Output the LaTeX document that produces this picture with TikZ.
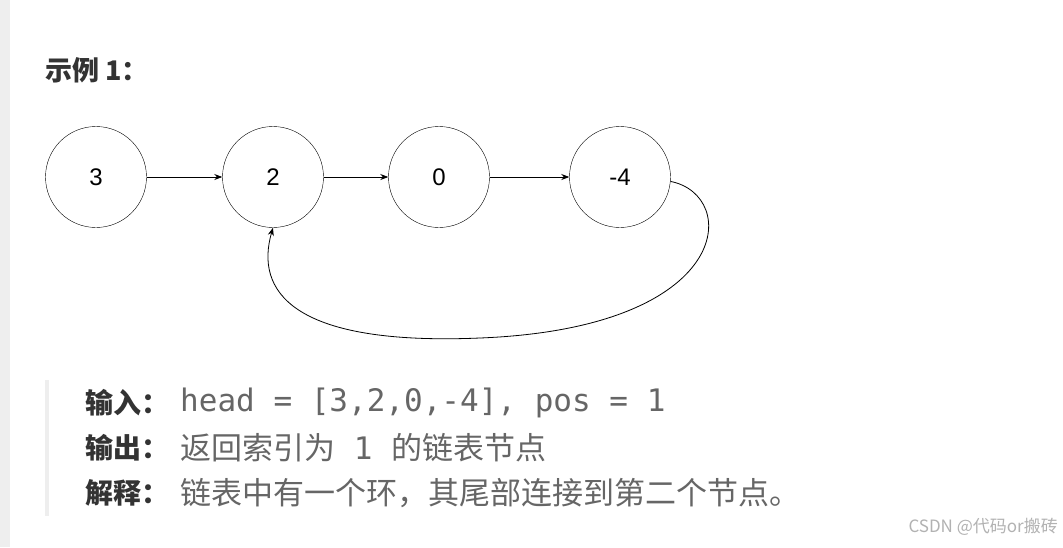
\documentclass[tikz,border=0pt]{standalone}
\usepackage{fontspec}
\setmainfont{Liberation Sans}
\newfontfamily\cjk{Noto Sans CJK SC}
\newfontfamily\mono{DejaVu Sans Mono}
\usetikzlibrary{arrows.meta, positioning}
\definecolor{txtgray}{HTML}{666666}
\definecolor{txtdark}{HTML}{333333}
\definecolor{bargray}{HTML}{EEEEEE}
\tikzset{
    listnode/.style={draw, circle, minimum size=101pt, inner sep=0pt, font=\fontsize{24}{24}\selectfont},
    nextarrow/.style={-{Stealth[length=8pt,width=6pt]}, line width=0.8pt},
    label/.style={anchor=west, inner sep=0pt, font=\cjk\bfseries\fontsize{28}{28}\selectfont, text=txtdark},
    body/.style={anchor=west, inner sep=0pt, font=\cjk\fontsize{31}{31}\selectfont, text=txtgray}
}
\begin{document}
\begin{tikzpicture}[x=1pt, y=-1pt]
    \useasboundingbox (0,0) rectangle (1063,547);
    \fill[white] (0,0) rectangle (1063,547);
    \fill[bargray] (0,0) rectangle (10,547);
    \fill[bargray] (45,380) rectangle (49,516);
    % title
    \node[label, font=\cjk\bfseries\fontsize{27}{27}\selectfont] (title) at (45,70) {示例 1：};
    % list
    \node[listnode] (n1) at (96,177) {3};
    \node[listnode] (n2) at (273,177) {2};
    \node[listnode] (n3) at (439,177) {0};
    \node[listnode] (n4) at (620,177) {-4};
    \draw[nextarrow] (n1) -- (n2);
    \draw[nextarrow] (n2) -- (n3);
    \draw[nextarrow] (n3) -- (n4);
    \coordinate (low) at (480,338);
    \draw[line width=0.8pt] (n4.-5) .. controls (740,195) and (735,328) .. (low);
    \draw[nextarrow] (low) .. controls (290,346) and (255,290) .. (n2.south);
    % explanation
    \node[label] (inl) at (85,403) {输入：};
    \node[body, font=\mono\fontsize{31}{31}\selectfont] (inv) at (180,403) {head = [3,2,0,-4], pos = 1};
    \node[label] (outl) at (85,448) {输出：};
    \node[body] (outv) at (180,448) {返回索引为{\mono\ 1\ }的链表节点};
    \node[label] (expl) at (85,493) {解释：};
    \node[body] (expv) at (180,493) {链表中有一个环，其尾部连接到第二个节点。};
    \node[anchor=east, inner sep=0pt, font=\cjk\fontsize{17}{17}\selectfont, text=black!30] (mark) at (1058,527) {CSDN @代码or搬砖};
\end{tikzpicture}
\end{document}
